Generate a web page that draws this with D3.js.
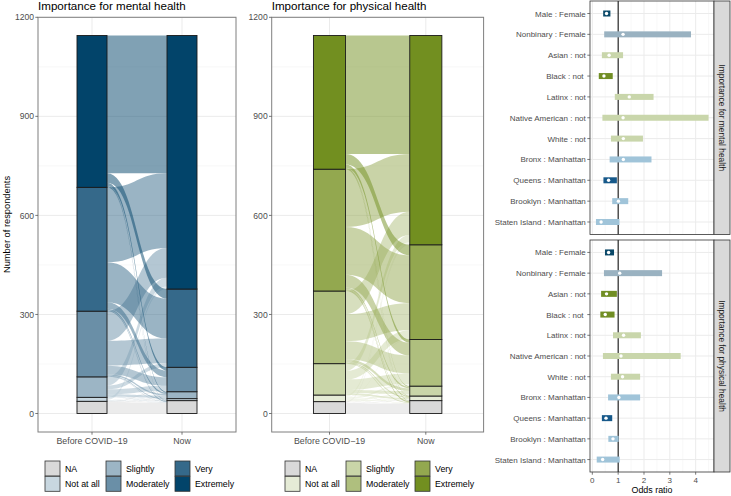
<!DOCTYPE html>
<html><head><meta charset="utf-8">
<script src="https://cdn.jsdelivr.net/npm/d3@7"></script>
<style>body{margin:0;background:#fff} text{font-family:"Liberation Sans",Arial,Helvetica,sans-serif}</style>
</head><body><svg id="c" width="731" height="496"></svg>
<script>
// ---------- DATA ----------
const levels = ["NA", "Not at all", "Slightly", "Moderately", "Very", "Extremely"];
const timepoints = ["Before COVID\u221219", "Now"];
const yTicks = [0, 300, 600, 900, 1200];
const mentalColors = ["#d9d9d9", "#c8d7e0", "#9cb5c5", "#6a8fa7", "#35698a", "#02446a"];
const physicalColors = ["#d9d9d9", "#e5ebd6", "#c9d5a8", "#afbf7e", "#93a84f", "#728f20"];
// rows: before level (NA..Extremely), cols: now level (NA..Extremely)
const mentalFlows = [
  [33, 1, 1, 2, 0, 0],
  [1, 1, 1, 1, 0, 8],
  [1, 1, 7, 15, 12, 26],
  [1, 2, 5, 26, 75, 90],
  [2, 1, 4, 20, 121, 227],
  [1, 0, 3, 10, 29, 417]
];
const physicalFlows = [
  [30, 1, 1, 1, 0, 3],
  [1, 3, 4, 5, 2, 5],
  [1, 4, 10, 32, 26, 22],
  [2, 3, 8, 55, 82, 70],
  [4, 2, 5, 38, 145, 175],
  [1, 1, 2, 10, 32, 359]
];
const comparisons = ["Male : Female", "Nonbinary : Female", "Asian : not", "Black : not ", "Latinx : not",
  "Native American : not", "White : not", "Bronx : Manhattan", "Queens : Manhattan", "Brooklyn : Manhattan",
  "Staten Island : Manhattan"];
const compGroup = ["gender", "gender", "race", "race", "race", "race", "race", "borough", "borough", "borough", "borough"];
const mentalEst = [0.55, 1.19, 0.65, 0.45, 1.43, 1.19, 1.2, 1.2, 0.63, 1.01, 0.34];
const mentalLo  = [0.42, 0.46, 0.37, 0.25, 0.87, 0.39, 0.72, 0.67, 0.43, 0.77, 0.14];
const mentalHi  = [0.70, 3.82, 1.19, 0.79, 2.37, 4.50, 1.96, 2.29, 0.95, 1.39, 1.05];
const physEst = [0.63, 1.06, 0.55, 0.50, 1.21, 1.11, 1.17, 1.03, 0.53, 0.80, 0.40];
const physLo  = [0.49, 0.45, 0.34, 0.31, 0.80, 0.41, 0.72, 0.61, 0.37, 0.62, 0.17];
const physHi  = [0.84, 2.70, 0.95, 0.86, 1.88, 3.42, 1.85, 1.85, 0.77, 1.02, 1.06];
const orTicks = [0, 1, 2, 3, 4];
const groupColors = {
  gender: {sig: "#0b4969", ns: "#9ab2c1"},
  race: {sig: "#718e24", ns: "#c9d6ab"},
  borough: {sig: "#17598a", ns: "#a0c4d9"}
};

// ---------- DRAW ----------
const svg = d3.select("#c");
const tickCol = "#4d4d4d";

function alluvial(opt) {
  const g = svg.append("g");
  const x = d3.scalePoint().domain(timepoints).range([opt.left, opt.right]).padding(0.6);
  const y = d3.scaleLinear().domain([-56, 1200]).range([opt.bottom, opt.top]);
  const bw = x.step() / 3;
  // grid
  const minor = d3.range(150, 1200, 300);
  g.selectAll(".mn").data(minor).join("line").attr("x1", opt.left).attr("x2", opt.right)
    .attr("y1", d => y(d)).attr("y2", d => y(d)).attr("stroke", "#f4f4f4").attr("stroke-width", 0.6);
  g.selectAll(".mj").data(yTicks).join("line").attr("x1", opt.left).attr("x2", opt.right)
    .attr("y1", d => y(d)).attr("y2", d => y(d)).attr("stroke", "#ebebeb").attr("stroke-width", 1);
  g.selectAll(".vx").data(timepoints).join("line").attr("x1", d => x(d)).attr("x2", d => x(d))
    .attr("y1", opt.top).attr("y2", opt.bottom).attr("stroke", "#ebebeb").attr("stroke-width", 1);

  const M = opt.flows;
  const rowSum = M.map(r => d3.sum(r));
  const colSum = levels.map((_, j) => d3.sum(M, r => r[j]));
  const bBase = [], nBase = [];
  let acc = 0; rowSum.forEach((s, i) => { bBase[i] = acc; acc += s; });
  acc = 0; colSum.forEach((s, j) => { nBase[j] = acc; acc += s; });

  const x0 = x(timepoints[0]) + bw / 2, x1 = x(timepoints[1]) - bw / 2, xm = (x0 + x1) / 2;
  const flows = [];
  for (let i = 0; i < 6; i++) for (let j = 0; j < 6; j++) {
    const v = M[i][j];
    if (!v) continue;
    const lb = bBase[i] + d3.sum(M[i].slice(0, j));
    const rb = nBase[j] + d3.sum(M.slice(0, i), r => r[j]);
    flows.push({i, j, lb, lt: lb + v, rb, rt: rb + v});
  }
  g.selectAll(".flow").data(flows).join("path")
    .attr("d", f => {
      const a = y(f.lt), b = y(f.rt), c = y(f.rb), d = y(f.lb);
      return `M${x0},${a}C${xm},${a} ${xm},${b} ${x1},${b}L${x1},${c}C${xm},${c} ${xm},${d} ${x0},${d}Z`;
    })
    .attr("fill", f => opt.colors[f.i]).attr("fill-opacity", 0.5);

  // strata
  const strata = [];
  rowSum.forEach((s, i) => strata.push({t: 0, i, y0: bBase[i], y1: bBase[i] + s}));
  colSum.forEach((s, j) => strata.push({t: 1, i: j, y0: nBase[j], y1: nBase[j] + s}));
  g.selectAll(".st").data(strata).join("rect")
    .attr("x", d => x(timepoints[d.t]) - bw / 2).attr("width", bw)
    .attr("y", d => y(d.y1)).attr("height", d => y(d.y0) - y(d.y1))
    .attr("fill", d => opt.colors[d.i]).attr("stroke", "#1a1a1a").attr("stroke-width", 0.9);

  // border
  g.append("rect").attr("x", opt.left).attr("y", opt.top).attr("width", opt.right - opt.left)
    .attr("height", opt.bottom - opt.top).attr("fill", "none").attr("stroke", "#7f7f7f").attr("stroke-width", 1);
  // axes
  g.selectAll(".yt").data(yTicks).join("line").attr("x1", opt.left - 2.7).attr("x2", opt.left)
    .attr("y1", d => y(d)).attr("y2", d => y(d)).attr("stroke", "#555").attr("stroke-width", 0.8);
  g.selectAll(".yl").data(yTicks).join("text").attr("x", opt.left - 4).attr("y", d => y(d) + 3.1)
    .attr("text-anchor", "end").attr("font-size", 8.6).attr("fill", tickCol).text(d => d);
  g.selectAll(".xt").data(timepoints).join("line").attr("x1", d => x(d)).attr("x2", d => x(d))
    .attr("y1", opt.bottom).attr("y2", opt.bottom + 2.7).attr("stroke", "#555").attr("stroke-width", 0.8);
  g.selectAll(".xl").data(timepoints).join("text").attr("x", d => x(d)).attr("y", opt.bottom + 12)
    .attr("text-anchor", "middle").attr("font-size", 8.8).attr("fill", tickCol).text(d => d);
  g.append("text").attr("x", opt.left).attr("y", 9.6).attr("font-size", 11.6).attr("fill", "#000").text(opt.title);

  // legend
  const lg = g.append("g");
  levels.forEach((lv, k) => {
    const col = Math.floor(k / 2), row = k % 2;
    const lx = opt.legX[col], ly = 461 + row * 15.3;
    lg.append("rect").attr("x", lx).attr("y", ly).attr("width", 15).attr("height", 15)
      .attr("fill", opt.colors[k]).attr("stroke", "#333").attr("stroke-width", 0.8);
    lg.append("text").attr("x", lx + 20).attr("y", ly + 10.8).attr("font-size", 8.8).attr("fill", "#000").text(lv);
  });
}

alluvial({left: 38, right: 236, top: 17.3, bottom: 432, flows: mentalFlows, colors: mentalColors,
  title: "Importance for mental health", legX: [45, 106, 175]});
alluvial({left: 271.7, right: 483.6, top: 17.3, bottom: 432, flows: physicalFlows, colors: physicalColors,
  title: "Importance for physical health", legX: [285, 346, 415]});

svg.append("text").attr("transform", "translate(10,224.5) rotate(-90)").attr("text-anchor", "middle")
  .attr("font-size", 9.3).attr("fill", "#000").text("Number of respondents");

// forest panels
const fx = d3.scaleLinear().domain([-0.09, 4.71]).range([590, 714]);
function forest(opt) {
  const g = svg.append("g");
  const y = d3.scalePoint().domain(comparisons).range([opt.top, opt.bottom]).padding(0.6);
  g.selectAll(".mn").data(d3.range(0.5, 4.6, 1)).join("line").attr("x1", d => fx(d)).attr("x2", d => fx(d))
    .attr("y1", opt.top).attr("y2", opt.bottom).attr("stroke", "#f4f4f4").attr("stroke-width", 0.6);
  g.selectAll(".mj").data(orTicks).join("line").attr("x1", d => fx(d)).attr("x2", d => fx(d))
    .attr("y1", opt.top).attr("y2", opt.bottom).attr("stroke", "#ebebeb").attr("stroke-width", 1);
  g.selectAll(".hz").data(comparisons).join("line").attr("x1", 590).attr("x2", 714)
    .attr("y1", d => y(d)).attr("y2", d => y(d)).attr("stroke", "#ebebeb").attr("stroke-width", 1);
  g.append("line").attr("x1", fx(1)).attr("x2", fx(1)).attr("y1", opt.top).attr("y2", opt.bottom)
    .attr("stroke", "#000").attr("stroke-width", 1);
  const rows = comparisons.map((c, k) => ({c, k, est: opt.est[k], lo: opt.lo[k], hi: opt.hi[k],
    sig: opt.lo[k] > 1 || opt.hi[k] < 1}));
  g.selectAll(".bar").data(rows).join("rect")
    .attr("x", d => fx(d.lo)).attr("width", d => fx(d.hi) - fx(d.lo))
    .attr("y", d => y(d.c) - 3).attr("height", 6)
    .attr("fill", d => groupColors[compGroup[d.k]][d.sig ? "sig" : "ns"]);
  g.selectAll(".pt").data(rows).join("circle").attr("cx", d => fx(d.est)).attr("cy", d => y(d.c))
    .attr("r", 1.7).attr("fill", "#fff");
  g.append("rect").attr("x", 590).attr("y", opt.top).attr("width", 124).attr("height", opt.bottom - opt.top)
    .attr("fill", "none").attr("stroke", "#333").attr("stroke-width", 0.8);
  g.selectAll(".yt").data(comparisons).join("line").attr("x1", 587.3).attr("x2", 590)
    .attr("y1", d => y(d)).attr("y2", d => y(d)).attr("stroke", "#555").attr("stroke-width", 0.8);
  g.selectAll(".yl").data(comparisons).join("text").attr("x", 585.8).attr("y", d => y(d) + 3)
    .attr("text-anchor", "end").attr("font-size", 8).attr("fill", tickCol)
    .style("white-space", "pre").text(d => d);
  // strip
  g.append("rect").attr("x", 714).attr("y", opt.top).attr("width", 16).attr("height", opt.bottom - opt.top)
    .attr("fill", "#d9d9d9").attr("stroke", "#333").attr("stroke-width", 0.8);
  g.append("text").attr("transform", `translate(719,${(opt.top + opt.bottom) / 2}) rotate(90)`)
    .attr("text-anchor", "middle").attr("font-size", 8.4).attr("fill", "#1a1a1a").text(opt.strip);
  if (opt.axis) {
    g.selectAll(".xt").data(orTicks).join("line").attr("x1", d => fx(d)).attr("x2", d => fx(d))
      .attr("y1", opt.bottom).attr("y2", opt.bottom + 2.7).attr("stroke", "#555").attr("stroke-width", 0.8);
    g.selectAll(".xl").data(orTicks).join("text").attr("x", d => fx(d)).attr("y", opt.bottom + 11)
      .attr("text-anchor", "middle").attr("font-size", 8).attr("fill", tickCol).text(d => d);
    g.append("text").attr("x", 652).attr("y", 493).attr("text-anchor", "middle").attr("font-size", 8.9)
      .attr("fill", "#000").text("Odds ratio");
  }
}
forest({top: 1, bottom: 234.5, est: mentalEst, lo: mentalLo, hi: mentalHi, strip: "Importance for mental health"});
forest({top: 240, bottom: 472, est: physEst, lo: physLo, hi: physHi, strip: "Importance for physical health", axis: true});
</script></body></html>
